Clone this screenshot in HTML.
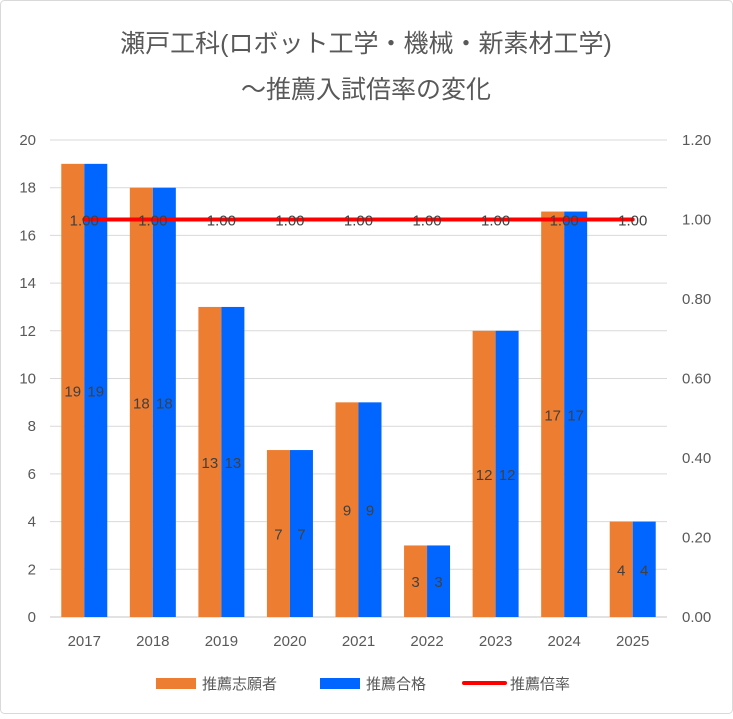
<!DOCTYPE html>
<html><head><meta charset="utf-8"><style>
body{margin:0;background:#fff;}
svg text{font-family:"Liberation Sans","Noto Sans CJK JP",sans-serif;}
</style></head><body>
<svg width="733" height="714" xmlns="http://www.w3.org/2000/svg">
<rect x="0.5" y="0.5" width="732" height="713" rx="4" fill="#fff" stroke="#d9d9d9"/>
<text x="366" y="52" text-anchor="middle" font-size="25" fill="#595959">瀬戸工科(ロボット工学・機械・新素材工学)</text>
<text x="366" y="98" text-anchor="middle" font-size="25" fill="#595959">～推薦入試倍率の変化</text>
<g id="grid"></g><g id="bars"></g><g id="line"></g><g id="labels"></g>
<g>
<rect x="156" y="678" width="40" height="11" fill="#ed7d31"/>
<text x="202" y="689" font-size="15" fill="#595959">推薦志願者</text>
<rect x="320" y="678" width="40" height="11" fill="#0066ff"/>
<text x="366" y="689" font-size="15" fill="#595959">推薦合格</text>
<line x1="464" y1="683" x2="505" y2="683" stroke="#ff0000" stroke-width="4" stroke-linecap="round"/>
<text x="510" y="689" font-size="15" fill="#595959">推薦倍率</text>
</g>
</svg>
<script>
const categories=["2017","2018","2019","2020","2021","2022","2023","2024","2025"];
const applicants=[19,18,13,7,9,3,12,17,4];
const passed=[19,18,13,7,9,3,12,17,4];
const ratio=[1,1,1,1,1,1,1,1,1];
const leftTicks=[0,2,4,6,8,10,12,14,16,18,20];
const rightTicks=["0.00","0.20","0.40","0.60","0.80","1.00","1.20"];
const NS="http://www.w3.org/2000/svg";
const X0=50,X1=667,Y0=617,Y1=140;
const step=(X1-X0)/categories.length;
const xc=i=>X0+step*(i+0.5);
const yL=v=>Y0-(v/20)*(Y0-Y1);
const yR=v=>Y0-(v/1.2)*(Y0-Y1);
function mk(tag,attrs,parent){const e=document.createElementNS(NS,tag);for(const k in attrs)e.setAttribute(k,attrs[k]);document.getElementById(parent).appendChild(e);return e;}
leftTicks.forEach(t=>{
 const g=mk('line',{x1:X0,x2:X1,y1:yL(t),y2:yL(t),stroke:'#d9d9d9','stroke-width':t===0?1.5:1},'grid');
 
 
 const l=mk('text',{x:36,y:yL(t)+5,'text-anchor':'end','font-size':15,fill:'#595959'},'grid');l.textContent=t;
 
 
});
rightTicks.forEach(t=>{
 const l=mk('text',{x:682,y:yR(+t)+5,'font-size':15,fill:'#595959'},'grid');l.textContent=t;
 
 
});
const bw=23;
categories.forEach((c,i)=>{
 const cx=xc(i);
 const a=mk('rect',{x:cx-bw,y:yL(applicants[i]),width:bw,height:Y0-yL(applicants[i]),fill:'#ed7d31'},'bars');
 
 
 const p=mk('rect',{x:cx,y:yL(passed[i]),width:bw,height:Y0-yL(passed[i]),fill:'#0066ff'},'bars');
 
 
 const xl=mk('text',{x:cx,y:646,'text-anchor':'middle','font-size':15,fill:'#595959'},'labels');xl.textContent=c;
 
 
 const la=mk('text',{x:cx-bw/2,y:(yL(applicants[i])+Y0)/2+6,'text-anchor':'middle','font-size':15,fill:'#404040'},'labels');la.textContent=applicants[i];
 
 
 const lp=mk('text',{x:cx+bw/2,y:(yL(passed[i])+Y0)/2+6,'text-anchor':'middle','font-size':15,fill:'#404040'},'labels');lp.textContent=passed[i];
 
 
 const lr=mk('text',{x:cx,y:yR(ratio[i])+6,'text-anchor':'middle','font-size':15,fill:'#404040'},'labels');lr.textContent=ratio[i].toFixed(2);
 
 
});
const pl=mk('polyline',{points:ratio.map((v,i)=>xc(i)+','+yR(v)).join(' '),fill:'none',stroke:'#ff0000','stroke-width':4,'stroke-linecap':'round'},'line');


</script>
</body></html>
